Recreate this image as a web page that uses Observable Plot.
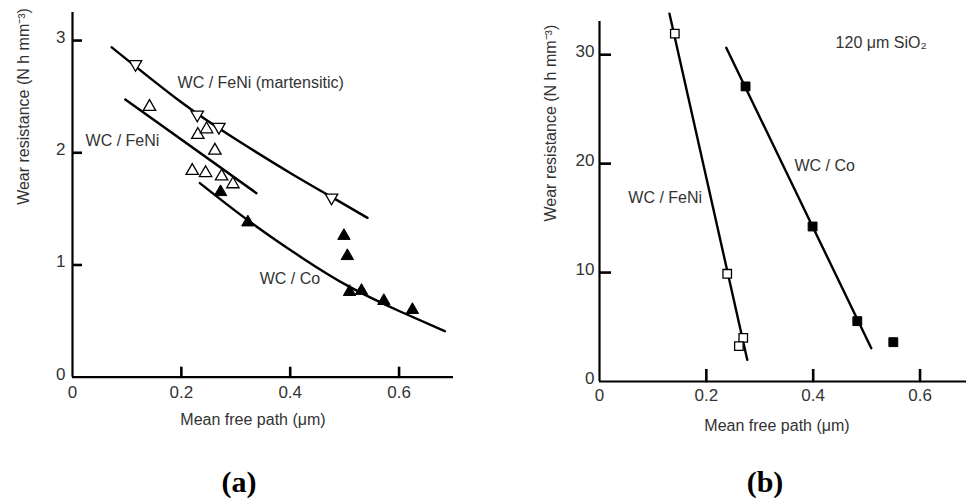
<!DOCTYPE html>
<html><head><meta charset="utf-8">
<script src="https://cdn.jsdelivr.net/npm/d3@7"></script>
<script src="https://cdn.jsdelivr.net/npm/@observablehq/plot@0.6"></script>
<style>
body{margin:0;background:#fff;}
#wrap{position:relative;width:966px;height:502px;overflow:hidden;background:#fff;}
.panel{position:absolute;top:0;}
.cap{position:absolute;top:482px;font:bold 30px "Liberation Serif","Times New Roman",serif;color:#000;transform:translate(-50%,-50%);white-space:nowrap;}
</style></head><body>
<div id="wrap">
  <div id="pa" class="panel" style="left:0"></div>
  <div id="pb" class="panel" style="left:483px"></div>
  <div class="cap" style="left:239px">(a)</div>
  <div class="cap" style="left:765px">(b)</div>
</div>
<script>
// ---------- Panel (a) data ----------
const aMartX = [0.1158, 0.2292, 0.269, 0.476];
const aMartY = [2.79, 2.34, 2.23, 1.60];
const aFeNiX = [0.1415, 0.2303, 0.2463, 0.2616, 0.220, 0.2445, 0.2739, 0.2947];
const aFeNiY = [2.41, 2.16, 2.21, 2.02, 1.84, 1.82, 1.79, 1.72];
const aCoX = [0.272, 0.3222, 0.4987, 0.505, 0.509, 0.531, 0.572, 0.6245];
const aCoY = [1.65, 1.38, 1.26, 1.08, 0.76, 0.77, 0.68, 0.60];
// fitted curves (a)
const aMartFitX = [0.072, 0.2, 0.3, 0.4, 0.478, 0.542];
const aMartFitY = [2.94, 2.45, 2.12, 1.82, 1.60, 1.42];
const aFeNiFitX = [0.097, 0.338];
const aFeNiFitY = [2.475, 1.64];
const aCoFitX = [0.234, 0.322, 0.42, 0.511, 0.60, 0.684];
const aCoFitY = [1.73, 1.40, 1.07, 0.80, 0.59, 0.41];
const aXTicks = [0, 0.2, 0.4, 0.6];
const aYTicks = [0, 1, 2, 3];

// ---------- Panel (b) data ----------
const bFeNiX = [0.141, 0.2391, 0.2691, 0.2609];
const bFeNiY = [31.93, 9.89, 4.01, 3.24];
const bCoX = [0.2734, 0.3989, 0.4826, 0.55];
const bCoY = [27.09, 14.23, 5.54, 3.61];
const bFeNiFitX = [0.131, 0.2766];
const bFeNiFitY = [33.76, 1.99];
const bCoFitX = [0.2373, 0.5088];
const bCoFitY = [30.64, 3.06];
const bXTicks = [0, 0.2, 0.4, 0.6];
const bYTicks = [0, 10, 20, 30];

// ---------- labels ----------
const xLabel = "Mean free path (\u03bcm)";
const yLabel = "Wear resistance (N h mm\u207b\u00b3)";
const aLabels = [
  {x: 0.193, y: 2.627, text: "WC / FeNi (martensitic)"},
  {x: 0.024, y: 2.11, text: "WC / FeNi"},
  {x: 0.344, y: 0.88, text: "WC / Co"}
];
const bLabels = [
  {x: 0.442, y: 31.1, text: "120 \u03bcm SiO\u2082"},
  {x: 0.365, y: 19.8, text: "WC / Co"},
  {x: 0.054, y: 16.9, text: "WC / FeNi"}
];

const zip = (xs, ys) => xs.map((x, i) => ({x, y: ys[i]}));
const font = "'Liberation Sans', Arial, Helvetica, sans-serif";
const ink = "#333";
const fmt = d => String(d);
const W = 483, H = 450;

function panel(o) {
  // inward tick length converted from pixels to data units
  const fw = W - o.ml - o.mr, fh = H - o.mt - o.mb;
  const tx = o.tick * (o.xDomain[1] - o.xDomain[0]) / fw;
  const ty = o.tick * (o.yDomain[1] - o.yDomain[0]) / fh;
  const xt = o.xTicks.filter(d => d > 0).map(v => ({v}));
  const yt = o.yTicks.filter(d => d > 0).map(v => ({v}));
  return Plot.plot({
    width: W, height: H,
    marginLeft: o.ml, marginRight: o.mr, marginTop: o.mt, marginBottom: o.mb,
    style: {fontFamily: font, fontSize: "17px", color: ink, background: "#fff", overflow: "visible"},
    x: {domain: o.xDomain},
    y: {domain: o.yDomain},
    marks: [
      Plot.axisX({ticks: o.xTicks, tickSize: 0, tickPadding: o.xPad, tickFormat: fmt, label: null, fill: ink, fontSize: 17}),
      Plot.axisY({ticks: o.yTicks, tickSize: 0, tickPadding: o.yPad, dy: -3, tickFormat: fmt, label: null, fill: ink, fontSize: 17}),
      Plot.ruleX([0], {stroke: "#000", strokeWidth: 2.2}),
      Plot.ruleY([0], {stroke: "#000", strokeWidth: 2.2}),
      // inward tick marks
      Plot.ruleX(xt, {x: "v", y1: 0, y2: ty, stroke: "black", strokeWidth: 2.6}),
      Plot.ruleY(yt, {y: "v", x1: 0, x2: tx, stroke: "black", strokeWidth: 2.6}),
      Plot.dot(xt, {x: "v", y: 0, r: 1, fill: "black"}),
      Plot.text([xLabel], {frameAnchor: "bottom", dx: o.xlDx, dy: o.xlDy, fontSize: 16, fill: ink}),
      Plot.text([yLabel], {frameAnchor: "left", rotate: -90, dx: -49, dy: o.ylDy, fontSize: 16, fill: ink}),
      ...o.fits.map(f => Plot.line(f, {x: "x", y: "y", stroke: "#000", strokeWidth: 2.4, curve: f.length > 2 ? "natural" : "linear"})),
      ...o.dots,
      Plot.text(o.labels, {x: "x", y: "y", text: "text", textAnchor: "start", fontSize: 16, fill: ink})
    ]
  });
}

const pa = panel({
  ml: 72, mr: 30, mt: 12, mb: 73.3,
  xDomain: [0, 0.70], yDomain: [0, 3.25],
  xTicks: aXTicks, yTicks: aYTicks, tick: 10, xPad: 9, yPad: 7,
  xlDx: -10, xlDy: 48, ylDy: 10,
  fits: [zip(aMartFitX, aMartFitY), zip(aFeNiFitX, aFeNiFitY), zip(aCoFitX, aCoFitY)],
  dots: [
    Plot.dot(zip(aMartX, aMartY), {x: "x", y: "y", symbol: "triangle", rotate: 180, r: 4.6, fill: "#fff", stroke: "#000", strokeWidth: 1.3}),
    Plot.dot(zip(aFeNiX, aFeNiY), {x: "x", y: "y", symbol: "triangle", r: 4.6, fill: "#fff", stroke: "#000", strokeWidth: 1.3}),
    Plot.dot(zip(aCoX, aCoY), {x: "x", y: "y", symbol: "triangle", r: 4.6, fill: "#000", stroke: "#000", strokeWidth: 1})
  ],
  labels: aLabels
});
document.getElementById("pa").append(pa);

const pb = panel({
  ml: 116, mr: 0, mt: 21, mb: 69,
  xDomain: [0, 0.687], yDomain: [0, 33.05],
  xTicks: bXTicks, yTicks: bYTicks, tick: 12, xPad: 7, yPad: 5,
  xlDx: -6, xlDy: 49, ylDy: 20,
  fits: [zip(bFeNiFitX, bFeNiFitY), zip(bCoFitX, bCoFitY)],
  dots: [
    Plot.dot(zip(bFeNiX, bFeNiY), {x: "x", y: "y", symbol: "square", r: 4.8, fill: "#fff", stroke: "#000", strokeWidth: 1.3}),
    Plot.dot(zip(bCoX, bCoY), {x: "x", y: "y", symbol: "square", r: 5, fill: "#000", stroke: "#000", strokeWidth: 1})
  ],
  labels: bLabels
});
document.getElementById("pb").append(pb);
</script>
</body></html>
